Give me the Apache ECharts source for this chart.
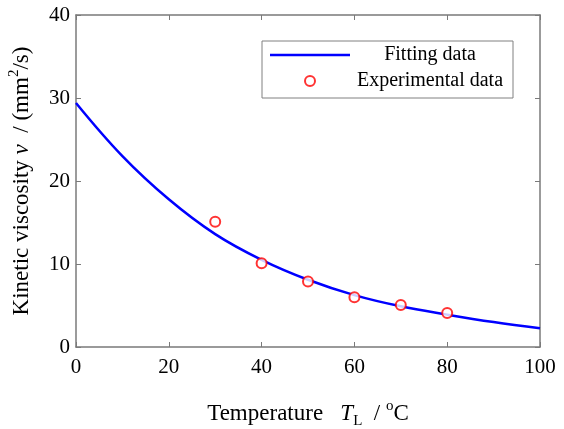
<!DOCTYPE html>
<html>
<head>
<meta charset="utf-8">
<script src="https://cdn.jsdelivr.net/npm/echarts@6/dist/echarts.min.js"></script>
<style>html,body{margin:0;padding:0;background:#fff}#c{width:564px;height:429px}</style>
</head>
<body>
<div id="c"></div>
<script>
// Fitted curve
const curveT = [0, 10, 20, 30, 40, 50, 60, 70, 80, 90, 100];
const curveV = [29.4, 23.0, 17.8, 13.6, 10.5, 8.1, 6.25, 4.9, 3.9, 3.0, 2.25];
// Experimental points
const expT = [30, 40, 50, 60, 70, 80];
const expV = [15.1, 10.1, 7.9, 6.0, 5.05, 4.1];
// Axis ticks
const xTicks = [0, 20, 40, 60, 80, 100];
const yTicks = [0, 10, 20, 30, 40];
const seriesNames = ['Fitting data', 'Experimental data'];

const FONT = '"Liberation Serif", "Times New Roman", serif';
const axisColor = '#7a7a7a';
function richFor(fs) {
  return {
    n: {fontSize: fs, fontFamily: FONT, color: '#000', lineHeight: 30},
    i: {fontSize: fs, fontFamily: FONT, color: '#000', fontStyle: 'italic', lineHeight: 30},
    sup: {fontSize: 15, fontFamily: FONT, color: '#000', verticalAlign: 'top', lineHeight: 17},
    sub: {fontSize: 15, fontFamily: FONT, color: '#000', verticalAlign: 'bottom', lineHeight: 17}
  };
}
const chart = echarts.init(document.getElementById('c'), null, {renderer: 'canvas'});
const common = {
  type: 'value',
  splitLine: {show: false},
  axisLine: {show: true, onZero: false, lineStyle: {color: axisColor, width: 1.5}},
  axisTick: {show: true, inside: true, length: 5, lineStyle: {color: axisColor, width: 1}}
};
chart.setOption({
  animation: false,
  backgroundColor: '#fff',
  grid: {left: 76, right: 24, top: 15, bottom: 82, containLabel: false, outerBoundsMode: 'none'},
  legend: {
    orient: 'vertical',
    left: 262, top: 41,
    padding: [4, 8, 7, 8],
    itemGap: 6,
    itemWidth: 80, itemHeight: 10,
    borderColor: '#808080', borderWidth: 1,
    backgroundColor: '#fff',
    data: [
      {name: seriesNames[0], icon: 'path://M0,0H80V2.5H0Z'},
      {name: seriesNames[1], icon: 'emptyCircle'}
    ],
    formatter: function (name) { return '{c|' + name + '}'; },
    textStyle: {
      rich: {c: {width: 150, align: 'center', fontSize: 20, fontFamily: FONT, color: '#000', lineHeight: 20}}
    }
  },
  xAxis: [
    Object.assign({}, common, {
      position: 'bottom', min: 0, max: 100, interval: 20,
      axisLabel: {show: true, fontSize: 21, fontFamily: FONT, color: '#000', margin: 10,
        formatter: function (v) { return xTicks.indexOf(v) >= 0 ? String(v) : ''; }},
      name: '{n|Temperature}{n|   }{i|T}{sub|L}{n|  / }{sup|o}{n|C}',
      nameLocation: 'middle', nameGap: 52,
      nameTextStyle: {rich: richFor(23)}
    }),
    Object.assign({}, common, {position: 'top', min: 0, max: 100, interval: 20, axisLabel: {show: false}})
  ],
  yAxis: [
    Object.assign({}, common, {
      position: 'left', min: 0, max: 40, interval: 10,
      axisLabel: {show: true, fontSize: 21, fontFamily: FONT, color: '#000', margin: 6,
        formatter: function (v) { return yTicks.indexOf(v) >= 0 ? String(v) : ''; }},
      name: '{n|Kinetic viscosity }{i|ν}{n|  / (mm}{sup|2}{n|/s)}',
      nameLocation: 'middle', nameGap: 39, nameRotate: 90,
      nameTextStyle: {rich: richFor(23)}
    }),
    Object.assign({}, common, {position: 'right', min: 0, max: 40, interval: 10, axisLabel: {show: false}})
  ],
  series: [
    {
      name: seriesNames[0], type: 'line', xAxisIndex: 0, yAxisIndex: 0,
      data: curveT.map(function (t, k) { return [t, curveV[k]]; }),
      smooth: 0.4, symbol: 'none', showSymbol: false,
      lineStyle: {color: '#0000ff', width: 2.5},
      itemStyle: {color: '#0000ff'},
      z: 2
    },
    {
      name: seriesNames[1], type: 'scatter', xAxisIndex: 0, yAxisIndex: 0,
      data: expT.map(function (t, k) { return [t, expV[k]]; }),
      symbol: 'emptyCircle', symbolSize: 10,
      itemStyle: {color: '#ff0000', borderColor: '#ff0000', borderWidth: 2},
      z: 3
    }
  ]
});
</script>
</body>
</html>
